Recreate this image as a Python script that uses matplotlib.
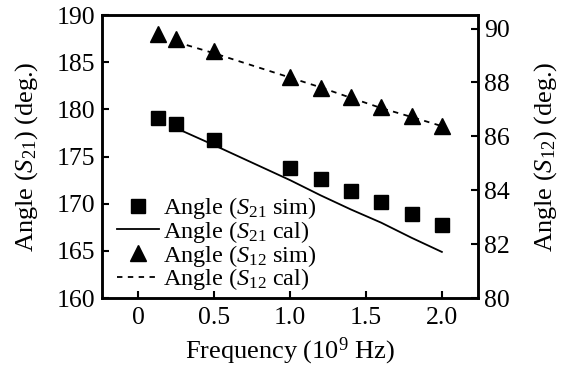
import matplotlib
matplotlib.use('Agg')
import matplotlib.pyplot as plt
import numpy as np

plt.rcParams['font.family'] = ['Liberation Serif', 'DejaVu Serif']
plt.rcParams['mathtext.fontset'] = 'custom'
plt.rcParams['mathtext.rm'] = 'Liberation Serif'
plt.rcParams['mathtext.it'] = 'Liberation Serif:italic'

# data
freq_sim = [0.13, 0.25, 0.5, 1.0, 1.2, 1.4, 1.6, 1.8, 2.0]
s21_sim = [179.1, 178.5, 176.8, 173.8, 172.6, 171.4, 170.2, 168.9, 167.8]
s12_sim = [89.8, 89.6, 89.15, 88.2, 87.8, 87.45, 87.1, 86.75, 86.4]

freq_cal = [0.25, 0.5, 1.0, 1.2, 1.4, 1.6, 1.8, 2.0]
s21_cal = [178.0, 176.2, 172.5, 170.9, 169.4, 168.0, 166.4, 164.9]
s12_cal = [89.5, 89.08, 88.18, 87.82, 87.43, 87.05, 86.72, 86.38]

xticks = [0, 0.5, 1.0, 1.5, 2.0]
xticklabels = ['0', '0.5', '1.0', '1.5', '2.0']

fig = plt.figure(figsize=(5.64, 3.76), dpi=100)
ax = fig.add_axes([0.181, 0.207, 0.667, 0.753])
ax2 = ax.twinx()

h1, = ax.plot(freq_sim, s21_sim, 's', color='black', markersize=10, linestyle='none',
              label='Angle ($S_{21}$ sim)')
h2, = ax.plot(freq_cal, s21_cal, '-', color='black', linewidth=1.3,
              label='Angle ($S_{21}$ cal)')
h3, = ax2.plot(freq_sim, s12_sim, '^', color='black', markersize=11, linestyle='none',
               label='Angle ($S_{12}$ sim)')
h4, = ax2.plot(freq_cal, s12_cal, '--', color='black', linewidth=1.3, dashes=(3, 3),
               label='Angle ($S_{12}$ cal)')

ax.set_xlim(-0.24, 2.24)
ax.set_ylim(160, 190)
ax2.set_ylim(80, 90.5)
ax.set_xticks(xticks)
ax.set_xticklabels(xticklabels)
ax.set_yticks(np.arange(160, 191, 5))
ax2.set_yticks(np.arange(80, 91, 2))

ax.set_xlabel('Frequency ($10^9$ Hz)', fontsize=19, labelpad=5)
ax.set_ylabel('Angle ($S_{21}$) (deg.)', fontsize=19, labelpad=12)
ax2.set_ylabel('Angle ($S_{12}$) (deg.)', fontsize=19, labelpad=16)

for a in (ax, ax2):
    a.tick_params(direction='in', length=5, width=1.5, labelsize=18.5)
    for s in a.spines.values():
        s.set_linewidth(1.8)
ax.tick_params(axis='x', pad=6)
ax.tick_params(axis='y', pad=5)
ax2.tick_params(axis='y', pad=4)

ax2.legend(handles=[h1, h2, h3, h4], loc='lower left', bbox_to_anchor=(0.0, -0.03),
           frameon=False, fontsize=17.5, handlelength=1.75, handletextpad=0.15,
           labelspacing=-0.1, borderaxespad=0.2)

plt.savefig('out.png', dpi=100)
